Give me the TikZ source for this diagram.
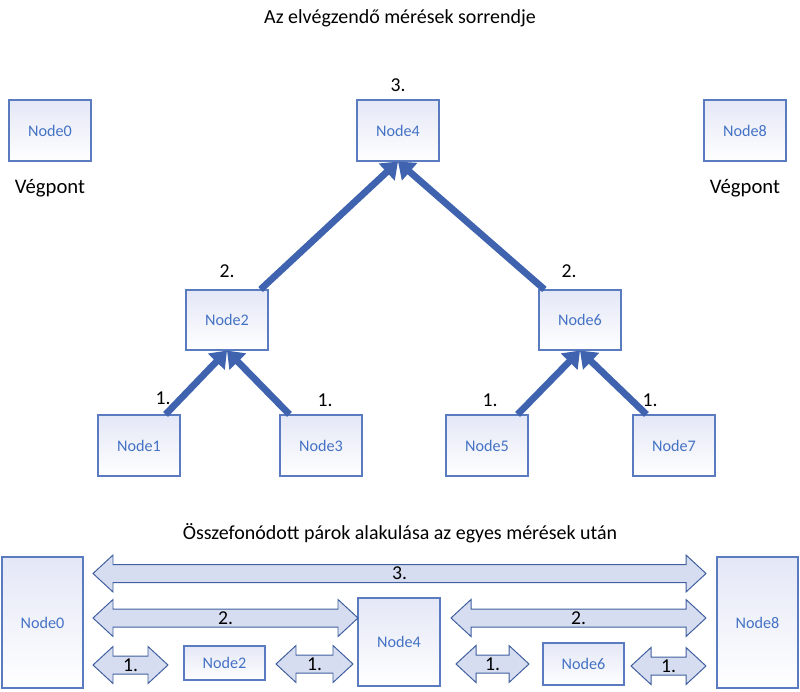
\documentclass[tikz,border=0pt]{standalone}
\usepackage{fontspec}
\setmainfont{Carlito}
\usetikzlibrary{arrows.meta,calc}

\definecolor{boxline}{HTML}{5B7BC0}
\definecolor{boxtext}{HTML}{4472C4}
\definecolor{boxshade}{HTML}{E4E7F6}
\definecolor{measline}{HTML}{3F63AE}
\definecolor{pairfill}{HTML}{D6DDF0}
\definecolor{pairline}{HTML}{3F5F9F}

\tikzset{
  qnode/.style={draw=boxline, line width=0.8pt, top color=boxshade, bottom color=white,
    text=boxtext, font=\fontsize{11.5}{13}\selectfont, inner sep=0pt},
  measure/.style={draw=measline, line width=4.8pt,
    -{Triangle[length=11pt, width=16pt]}},
  pairarrow/.style={draw=pairline, fill=pairfill, line width=0.7pt, line join=miter},
  steplabel/.style={font=\fontsize{14}{16}\selectfont},
  titletext/.style={font=\fontsize{14.2}{16}\selectfont}
}

% double block arrow between x=#1 and x=#2, centred at y=#3
\newcommand{\pairshape}[4]{%
  \draw[pairarrow] (#1,#3) -- (#1+20,#3-18.5) -- (#1+20,#3-9) -- (#2-20,#3-9)
    -- (#2-20,#3-18.5) -- (#2,#3) -- (#2-20,#3+18.5) -- (#2-20,#3+9)
    -- (#1+20,#3+9) -- (#1+20,#3+18.5) -- cycle;
  \node[steplabel] at ({(#1+#2)/2},#3) {#4};
}

\begin{document}
\begin{tikzpicture}[x=0.025cm, y=-0.025cm]
  \useasboundingbox (0,0) rectangle (800,691);

  % Titles
  \node[titletext] (title1) at (400,18) {Az elvégzendő mérések sorrendje};
  \node[titletext] (title2) at (400,533) {Összefonódott párok alakulása az egyes mérések után};

  % Measurement tree
  \node[qnode, minimum width=82*0.025cm, minimum height=61*0.025cm] (n0) at (50,130.5) {Node0};
  \node[qnode, minimum width=82*0.025cm, minimum height=61*0.025cm] (n4) at (398,130.5) {Node4};
  \node[qnode, minimum width=82*0.025cm, minimum height=61*0.025cm] (n8) at (745,130.5) {Node8};
  \node[qnode, minimum width=82*0.025cm, minimum height=60*0.025cm] (n2) at (227,320) {Node2};
  \node[qnode, minimum width=82*0.025cm, minimum height=60*0.025cm] (n6) at (580,320) {Node6};
  \node[qnode, minimum width=82*0.025cm, minimum height=61*0.025cm] (n1) at (139,445.5) {Node1};
  \node[qnode, minimum width=82*0.025cm, minimum height=61*0.025cm] (n3) at (321,445.5) {Node3};
  \node[qnode, minimum width=82*0.025cm, minimum height=61*0.025cm] (n5) at (487,445.5) {Node5};
  \node[qnode, minimum width=82*0.025cm, minimum height=61*0.025cm] (n7) at (674,445.5) {Node7};

  % Arrows
  \draw[measure] ($(n1.north east)+(-15,0)$) -- (n2.south);
  \draw[measure] ($(n3.north west)+(10,0)$) -- (n2.south);
  \draw[measure] ($(n5.north east)+(-11,0)$) -- (n6.south);
  \draw[measure] ($(n7.north west)+(14,0)$) -- (n6.south);
  \draw[measure] ($(n2.north east)+(-8,0)$) -- (n4.south);
  \draw[measure] ($(n6.north west)+(6,0)$) -- (n4.south);

  % Labels
  \node[steplabel] at (398,85) {3.};
  \node[steplabel] at (227,271) {2.};
  \node[steplabel] at (569,271) {2.};
  \node[steplabel] at (163,398) {1.};
  \node[steplabel] at (325,400) {1.};
  \node[steplabel] at (490,400) {1.};
  \node[steplabel] at (650,400) {1.};
  \node[font=\fontsize{14.7}{17}\selectfont] (end0) at (50,188) {Végpont};
  \node[font=\fontsize{14.7}{17}\selectfont] (end8) at (745,188) {Végpont};

  % Entangled pairs
  \node[qnode, minimum width=81*0.025cm, minimum height=131*0.025cm] (p0) at (42.5,622.5) {Node0};
  \node[qnode, minimum width=81*0.025cm, minimum height=131*0.025cm] (p8) at (757.5,622.5) {Node8};
  \node[qnode, minimum width=82*0.025cm, minimum height=88*0.025cm] (p4) at (399,642) {Node4};
  \node[qnode, minimum width=81*0.025cm, minimum height=34*0.025cm] (p2) at (224.5,663) {Node2};
  \node[qnode, minimum width=81*0.025cm, minimum height=42*0.025cm] (p6) at (583.5,664) {Node6};

  \pairshape{93}{706}{573.5}{3.}
  \pairshape{93}{358}{618}{2.}
  \pairshape{451}{706}{618}{2.}
  \pairshape{93}{168}{665}{1.}
  \pairshape{276}{353}{664}{1.}
  \pairshape{456}{529}{664}{1.}
  \pairshape{631}{706}{666}{1.}
\end{tikzpicture}
\end{document}
